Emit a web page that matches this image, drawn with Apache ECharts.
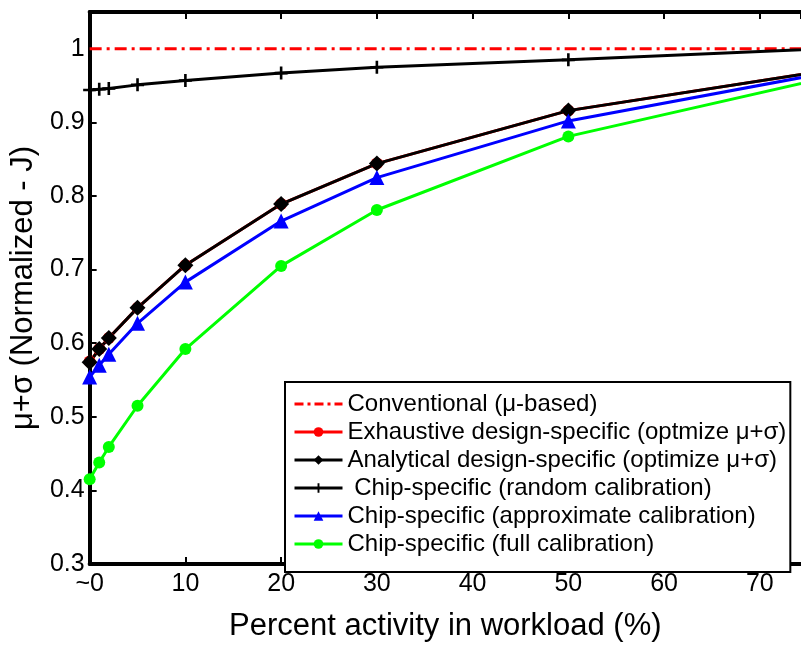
<!DOCTYPE html>
<html>
<head>
<meta charset="utf-8">
<script src="https://cdn.jsdelivr.net/npm/echarts@6/dist/echarts.min.js"></script>
<style>
  html, body { margin: 0; padding: 0; background: #fff; }
  #chart { width: 801px; height: 647px; }
</style>
</head>
<body>
<div id="chart"></div>
<script>
// activity (%) of each measured point; last point sits beyond the cropped right edge
var activity = [0, 1, 2, 5, 10, 20, 30, 50, 100];
var conventional = [1, 1, 1, 1, 1, 1, 1, 1, 1];
var exhaustive = [0.575, 0.592, 0.607, 0.648, 0.706, 0.789, 0.844, 0.916, 1.017];
var analytical = [0.574, 0.592, 0.607, 0.648, 0.706, 0.789, 0.844, 0.916, 1.017];
var randomCal = [0.944, 0.945, 0.946, 0.951, 0.957, 0.967, 0.975, 0.985, 1.013];
var approxCal = [0.554, 0.570, 0.585, 0.627, 0.683, 0.766, 0.825, 0.902, 1.023];
var fullCal = [0.415, 0.438, 0.459, 0.515, 0.592, 0.705, 0.781, 0.881, 1.029];

var names = [
  "Conventional (\u03bc-based)",
  "Exhaustive design-specific (optmize \u03bc+\u03c3)",
  "Analytical design-specific (optimize \u03bc+\u03c3)",
  " Chip-specific (random calibration)",
  "Chip-specific (approximate calibration)",
  "Chip-specific (full calibration)"
];

function pairs(ys) {
  return activity.map(function (x, i) { return [x, ys[i]]; });
}

var font = "Liberation Sans, Arial, sans-serif";
var plus = "path://M4,0h2v4h4v2h-4v4h-2v-4h-4v-2h4z";
// dash-dot legend icon for the conventional line
var dashDot = "path://M0,0h9v3h-9zM13,0h3v3h-3zM20,0h9v3h-9zM33,0h3v3h-3zM40,0h8v3h-8z";

var chart = echarts.init(document.getElementById("chart"));
chart.setOption({
  animation: false,
  backgroundColor: "#fff",
  grid: { left: 87, right: 0, top: 12, bottom: 65 },
  legend: {
    orient: "vertical",
    left: 285,
    top: 382,
    padding: [10, 4, 16, 8],
    backgroundColor: "#fff",
    borderColor: "#000",
    borderWidth: 2,
    borderRadius: 0,
    itemWidth: 48,
    itemHeight: 12,
    itemGap: 4,
    symbolKeepAspect: true,
    lineStyle: { width: 3 },
    textStyle: { fontFamily: font, fontSize: 24, color: "#000" },
    data: [{ name: names[0], icon: dashDot }].concat(names.slice(1))
  },
  xAxis: [
    {
      type: "value",
      min: 0,
      max: 74.3,
      interval: 10,
      name: "Percent activity in workload (%)",
      nameLocation: "middle",
      nameGap: 47,
      nameTextStyle: { fontFamily: font, fontSize: 31, color: "#000" },
      axisLine: { lineStyle: { color: "#000", width: 4 } },
      axisTick: { inside: true, length: 7, lineStyle: { color: "#000", width: 2 } },
      axisLabel: {
        fontFamily: font, fontSize: 25, color: "#000", margin: 8,
        showMaxLabel: false,
        formatter: function (v) { return v === 0 ? "~0" : String(v); }
      },
      splitLine: { show: false }
    },
    {
      type: "value",
      position: "top",
      min: 0,
      max: 74.3,
      interval: 10,
      axisLine: { show: true, lineStyle: { color: "#000", width: 4 } },
      axisTick: { show: true, inside: true, length: 7, lineStyle: { color: "#000", width: 2 } },
      axisLabel: { show: false },
      splitLine: { show: false }
    }
  ],
  yAxis: {
    type: "value",
    min: 0.3,
    max: 1.05,
    interval: 0.1,
    name: "\u03bc+\u03c3 (Normalized - J)",
    nameLocation: "middle",
    nameGap: 46,
    nameTextStyle: { fontFamily: font, fontSize: 31, color: "#000" },
    axisLine: { show: true, lineStyle: { color: "#000", width: 4 } },
    axisTick: { show: true, inside: true, length: 7, lineStyle: { color: "#000", width: 2 } },
    axisLabel: {
      fontFamily: font, fontSize: 25, color: "#000", margin: 5,
      showMaxLabel: false,
      formatter: function (v) { return String(+v.toFixed(2)); }
    },
    splitLine: { show: false }
  },
  series: [
    {
      name: names[0], type: "line", data: pairs(conventional),
      showSymbol: false, symbol: "none",
      lineStyle: { color: "#ff0000", width: 3, type: [12, 5, 3, 5] },
      itemStyle: { color: "#ff0000" }
    },
    {
      name: names[1], type: "line", data: pairs(exhaustive),
      symbol: "circle", symbolSize: 12,
      lineStyle: { color: "#ff0000", width: 3 },
      itemStyle: { color: "#ff0000" }
    },
    {
      name: names[2], type: "line", data: pairs(analytical),
      symbol: "diamond", symbolSize: 16,
      lineStyle: { color: "#000", width: 3 },
      itemStyle: { color: "#000" }
    },
    {
      name: names[3], type: "line", data: pairs(randomCal),
      symbol: plus, symbolSize: 13,
      lineStyle: { color: "#000", width: 3 },
      itemStyle: { color: "#000" }
    },
    {
      name: names[4], type: "line", data: pairs(approxCal),
      symbol: "triangle", symbolSize: 15,
      lineStyle: { color: "#0000ff", width: 3 },
      itemStyle: { color: "#0000ff" }
    },
    {
      name: names[5], type: "line", data: pairs(fullCal),
      symbol: "circle", symbolSize: 12,
      lineStyle: { color: "#00ff00", width: 3 },
      itemStyle: { color: "#00ff00" }
    }
  ]
});
</script>
</body>
</html>
